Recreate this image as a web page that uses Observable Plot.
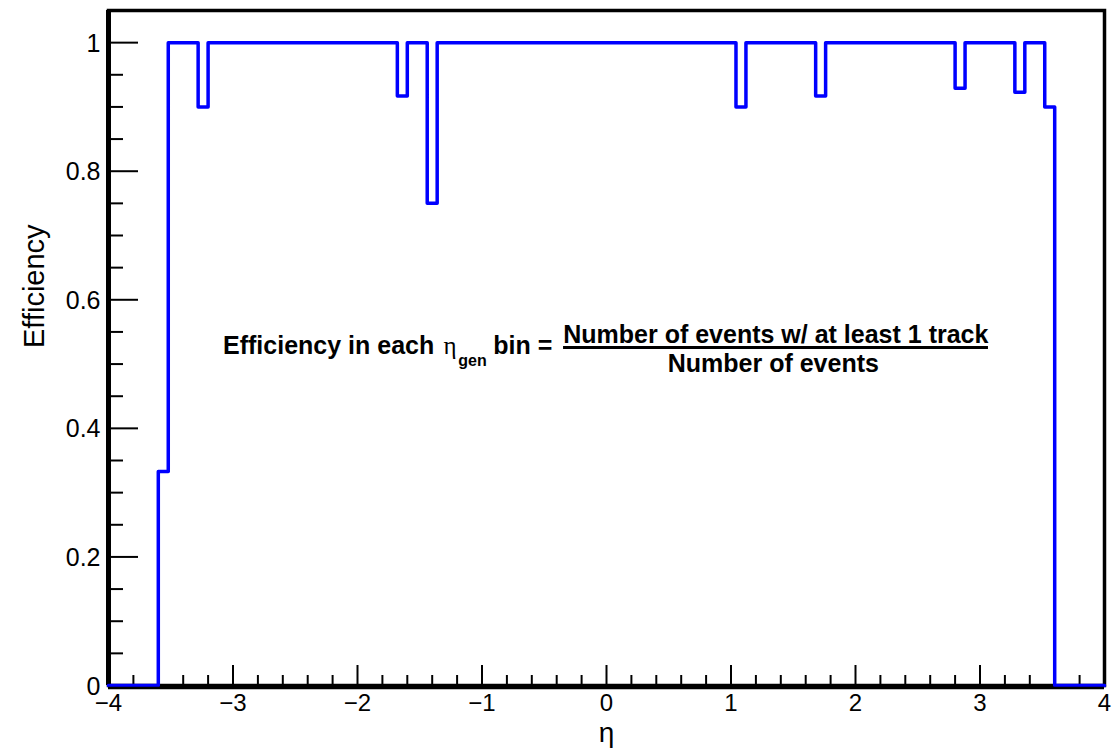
<!DOCTYPE html>
<html>
<head>
<meta charset="utf-8">
<script src="https://cdn.jsdelivr.net/npm/d3@7"></script>
<script src="https://cdn.jsdelivr.net/npm/@observablehq/plot@0.6"></script>
<style>
  html, body { margin: 0; padding: 0; background: #fff; }
  #chart svg { display: block; }
</style>
</head>
<body>
<div id="chart"></div>
<script>
// Histogram (bin width 0.08): edges where the content changes, and the content of each segment
const binEdges = [-4, -3.6, -3.52, -3.28, -3.2, -1.68, -1.6, -1.44, -1.36, 1.04, 1.12, 1.68, 1.76, 2.8, 2.88, 3.28, 3.36, 3.52, 3.6, 4];
const efficiency = [0, 0.333, 1, 0.9, 1, 0.917, 1, 0.75, 1, 0.9, 1, 0.917, 1, 0.929, 1, 0.923, 1, 0.9, 0];

// Axis ticks
const xMajorTicks = [-4, -3, -2, -1, 0, 1, 2, 3, 4];
const xMinorTicks = [-3.8, -3.6, -3.4, -3.2, -2.8, -2.6, -2.4, -2.2, -1.8, -1.6, -1.4, -1.2, -0.8, -0.6, -0.4, -0.2,
                     0.2, 0.4, 0.6, 0.8, 1.2, 1.4, 1.6, 1.8, 2.2, 2.4, 2.6, 2.8, 3.2, 3.4, 3.6, 3.8];
const yMajorTicks = [0, 0.2, 0.4, 0.6, 0.8, 1];
const yMinorTicks = [0.05, 0.1, 0.15, 0.25, 0.3, 0.35, 0.45, 0.5, 0.55, 0.65, 0.7, 0.75, 0.85, 0.9, 0.95];

// Text
const xTitle = "η";
const yTitle = "Efficiency";
const formulaLeft = "Efficiency in each";
const formulaEta = "η";
const formulaSub = "gen";
const formulaMid = "bin =";
const numerator = "Number of events w/ at least 1 track";
const denominator = "Number of events";

const steps = efficiency.map((v, i) => ({x: binEdges[i], y: v}));
steps.push({x: binEdges[binEdges.length - 1], y: efficiency[efficiency.length - 1]});

const W = 1117, H = 748;
const mL = 108, mR = 13, mT = 10, mB = 63;
const frameW = W - mL - mR, frameH = H - mT - mB;
const font = "'Liberation Sans', Arial, Helvetica, sans-serif";

const chart = Plot.plot({
  width: W,
  height: H,
  marginLeft: mL, marginRight: mR, marginTop: mT, marginBottom: mB,
  style: {fontFamily: font, background: "white", color: "black"},
  x: {domain: [-4, 4]},
  y: {domain: [0, 1.05]},
  marks: [
    Plot.frame({stroke: "black", strokeWidth: 3.5}),
    // tick marks drawn inside the frame (ROOT style)
    Plot.ruleX(xMajorTicks, {insetTop: frameH - 20, stroke: "black", strokeWidth: 2}),
    Plot.ruleX(xMinorTicks, {insetTop: frameH - 10, stroke: "black", strokeWidth: 2}),
    Plot.ruleY(yMajorTicks, {insetRight: frameW - 30, stroke: "black", strokeWidth: 2}),
    Plot.ruleY(yMinorTicks, {insetRight: frameW - 15, stroke: "black", strokeWidth: 2}),
    Plot.ruleX([-4], {stroke: "black", strokeWidth: 5}),
    Plot.axisX({ticks: xMajorTicks, tickSize: 0, tickPadding: 8, fontSize: 24, label: null, fill: "black"}),
    Plot.axisY({ticks: yMajorTicks, tickSize: 0, tickPadding: 8, fontSize: 25, dy: 1, label: null, fill: "black",
                tickFormat: d => String(d)}),
    // histogram outline
    Plot.line(steps, {x: "x", y: "y", curve: "step-after", stroke: "#0000ff", strokeWidth: 3.5}),
    Plot.ruleY([0], {stroke: "black", strokeWidth: 2.5, dy: 2.5}),
    // axis titles
    Plot.text([xTitle], {frameAnchor: "bottom", lineAnchor: "bottom", dy: 56, fontSize: 28, fill: "black"}),
    Plot.text([yTitle], {frameAnchor: "left", lineAnchor: "bottom", rotate: -90, dx: -65, fontSize: 29, fill: "black"}),
    // formula annotation
    Plot.text([formulaLeft], {x: -3.08, y: 0.5156, textAnchor: "start", lineAnchor: "bottom", fontSize: 25, fontWeight: "bold", fill: "black"}),
    Plot.text([formulaEta], {x: -1.31, y: 0.5156, textAnchor: "start", lineAnchor: "bottom", fontSize: 25, fontFamily: "'Liberation Serif', 'DejaVu Serif', serif", fill: "black"}),
    Plot.text([formulaSub], {x: -1.19, y: 0.4969, textAnchor: "start", lineAnchor: "bottom", fontSize: 16, fontWeight: "bold", fill: "black"}),
    Plot.text([formulaMid], {x: -0.91, y: 0.5156, textAnchor: "start", lineAnchor: "bottom", fontSize: 25, fontWeight: "bold", fill: "black"}),
    Plot.text([numerator], {x: 1.36, y: 0.5327, textAnchor: "middle", lineAnchor: "bottom", fontSize: 25, fontWeight: "bold", fill: "black"}),
    Plot.ruleY([0.5257], {x1: -0.345, x2: 3.068, stroke: "black", strokeWidth: 3}),
    Plot.text([denominator], {x: 1.34, y: 0.4875, textAnchor: "middle", lineAnchor: "bottom", fontSize: 25, fontWeight: "bold", fill: "black"})
  ]
});

document.getElementById("chart").appendChild(chart);
</script>
</body>
</html>
